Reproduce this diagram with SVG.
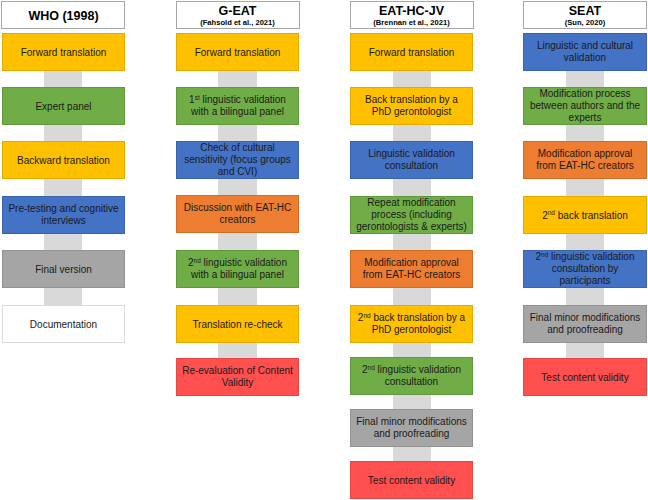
<svg xmlns="http://www.w3.org/2000/svg" width="648" height="500" viewBox="0 0 648 500">
<defs>
<style>
text{font-family:"Liberation Sans",Arial,sans-serif;fill:#1a1a1a;text-anchor:middle}
.t{font-size:10px}
.h{font-size:12.5px;font-weight:bold;fill:#000}
.s{font-size:7.6px;font-weight:bold;fill:#000}
.sup{font-size:6.5px}
.bar{fill:#d9d9d9}
.hdr{fill:#fff;stroke:#a6a6a6;stroke-width:1}
.y{fill:#ffc000;stroke:#e3ab00}
.g{fill:#70ad47;stroke:#5f9a3a}
.b{fill:#4472c4;stroke:#3a63ad}
.o{fill:#ed7d31;stroke:#d46c26}
.gr{fill:#a5a5a5;stroke:#939393}
.r{fill:#ff4f4f;stroke:#e84545}
.w{fill:#fff;stroke:#d9d9d9}
</style>
</defs>
<rect width="648" height="500" fill="#fff"/>
<g id="connectors">
<rect class="bar" x="44" y="52" width="38" height="272"/>
<rect class="bar" x="218" y="52" width="39" height="325"/>
<rect class="bar" x="393" y="52" width="38" height="428"/>
<rect class="bar" x="566" y="52" width="38" height="325"/>
</g>
<g id="headers">
<g id="h-who"><rect class="hdr" x="1.5" y="1.5" width="123" height="27"/><text class="h" x="63.5" y="19.5">WHO (1998)</text></g>
<g id="h-geat"><rect class="hdr" x="176.5" y="1.5" width="123" height="27"/><text class="h" x="237.5" y="14.5">G-EAT</text><text class="s" x="237.5" y="25">(Fahsold et al., 2021)</text></g>
<g id="h-eathcjv"><rect class="hdr" x="350.5" y="1.5" width="123" height="27"/><text class="h" x="411.5" y="14.5">EAT-HC-JV</text><text class="s" x="411.5" y="25">(Brennan et al., 2021)</text></g>
<g id="h-seat"><rect class="hdr" x="523.5" y="1.5" width="123" height="27"/><text class="h" x="585" y="14.5">SEAT</text><text class="s" x="585" y="25">(Sun, 2020)</text></g>
</g>
<g id="col-who">
<g id="w1"><rect class="y" x="2.5" y="33.5" width="122" height="37"/><text class="t" x="63.5" y="55.5">Forward translation</text></g>
<g id="w2"><rect class="g" x="2.5" y="87.5" width="122" height="37"/><text class="t" x="63.5" y="109.5">Expert panel</text></g>
<g id="w3"><rect class="y" x="2.5" y="141.5" width="122" height="37"/><text class="t" x="63.5" y="163.5">Backward translation</text></g>
<g id="w4"><rect class="b" x="2.5" y="196.5" width="122" height="37"/><text class="t" x="63.5" y="212">Pre-testing and cognitive</text><text class="t" x="63.5" y="224">interviews</text></g>
<g id="w5"><rect class="gr" x="2.5" y="250.5" width="122" height="37"/><text class="t" x="63.5" y="272.5">Final version</text></g>
<g id="w6"><rect class="w" x="2.5" y="305.5" width="122" height="37"/><text class="t" x="63.5" y="327.5">Documentation</text></g>
</g>
<g id="col-geat">
<g id="g1"><rect class="y" x="176.5" y="33.5" width="122" height="37"/><text class="t" x="237.5" y="55.5">Forward translation</text></g>
<g id="g2"><rect class="g" x="176.5" y="87.5" width="122" height="37"/><text class="t" x="237.5" y="103">1<tspan class="sup" dy="-3.5">st</tspan><tspan dy="3.5"> linguistic validation</tspan></text><text class="t" x="237.5" y="115">with a bilingual panel</text></g>
<g id="g3"><rect class="b" x="176.5" y="141.5" width="122" height="37"/><text class="t" x="237.5" y="151">Check of cultural</text><text class="t" x="237.5" y="163">sensitivity (focus groups</text><text class="t" x="237.5" y="175">and CVI)</text></g>
<g id="g4"><rect class="o" x="176.5" y="195.5" width="122" height="37"/><text class="t" x="237.5" y="211">Discussion with EAT-HC</text><text class="t" x="237.5" y="223">creators</text></g>
<g id="g5"><rect class="g" x="176.5" y="250.5" width="122" height="37"/><text class="t" x="237.5" y="266">2<tspan class="sup" dy="-3.5">nd</tspan><tspan dy="3.5"> linguistic validation</tspan></text><text class="t" x="237.5" y="278">with a bilingual panel</text></g>
<g id="g6"><rect class="y" x="176.5" y="305.5" width="122" height="37"/><text class="t" x="237.5" y="327.5">Translation re-check</text></g>
<g id="g7"><rect class="r" x="176.5" y="358.5" width="122" height="37"/><text class="t" x="237.5" y="374">Re-evaluation of Content</text><text class="t" x="237.5" y="386">Validity</text></g>
</g>
<g id="col-eathcjv">
<g id="e1"><rect class="y" x="350.5" y="33.5" width="122" height="37"/><text class="t" x="411.5" y="55.5">Forward translation</text></g>
<g id="e2"><rect class="y" x="350.5" y="87.5" width="122" height="37"/><text class="t" x="411.5" y="103">Back translation by a</text><text class="t" x="411.5" y="115">PhD gerontologist</text></g>
<g id="e3"><rect class="b" x="350.5" y="141.5" width="122" height="37"/><text class="t" x="411.5" y="157">Linguistic validation</text><text class="t" x="411.5" y="169">consultation</text></g>
<g id="e4"><rect class="g" x="350.5" y="196.5" width="122" height="37"/><text class="t" x="411.5" y="206">Repeat modification</text><text class="t" x="411.5" y="218">process (including</text><text class="t" x="411.5" y="230">gerontologists &amp; experts)</text></g>
<g id="e5"><rect class="o" x="350.5" y="250.5" width="122" height="37"/><text class="t" x="411.5" y="266">Modification approval</text><text class="t" x="411.5" y="278">from EAT-HC creators</text></g>
<g id="e6"><rect class="y" x="350.5" y="305.5" width="122" height="37"/><text class="t" x="411.5" y="321">2<tspan class="sup" dy="-3.5">nd</tspan><tspan dy="3.5"> back translation by a</tspan></text><text class="t" x="411.5" y="333">PhD gerontologist</text></g>
<g id="e7"><rect class="g" x="350.5" y="357.5" width="122" height="37"/><text class="t" x="411.5" y="373">2<tspan class="sup" dy="-3.5">nd</tspan><tspan dy="3.5"> linguistic validation</tspan></text><text class="t" x="411.5" y="385">consultation</text></g>
<g id="e8"><rect class="gr" x="350.5" y="409.5" width="122" height="37"/><text class="t" x="411.5" y="425">Final minor modifications</text><text class="t" x="411.5" y="437">and proofreading</text></g>
<g id="e9"><rect class="r" x="350.5" y="461.5" width="122" height="37"/><text class="t" x="411.5" y="483.5">Test content validity</text></g>
</g>
<g id="col-seat">
<g id="s1"><rect class="b" x="523.5" y="33.5" width="123" height="37"/><text class="t" x="585" y="49">Linguistic and cultural</text><text class="t" x="585" y="61">validation</text></g>
<g id="s2"><rect class="g" x="523.5" y="87.5" width="123" height="37"/><text class="t" x="585" y="97">Modification process</text><text class="t" x="585" y="109">between authors and the</text><text class="t" x="585" y="121">experts</text></g>
<g id="s3"><rect class="o" x="523.5" y="141.5" width="123" height="37"/><text class="t" x="585" y="157">Modification approval</text><text class="t" x="585" y="169">from EAT-HC creators</text></g>
<g id="s4"><rect class="y" x="523.5" y="196.5" width="123" height="37"/><text class="t" x="585" y="218.5">2<tspan class="sup" dy="-3.5">nd</tspan><tspan dy="3.5"> back translation</tspan></text></g>
<g id="s5"><rect class="b" x="523.5" y="250.5" width="123" height="37"/><text class="t" x="585" y="260">2<tspan class="sup" dy="-3.5">nd</tspan><tspan dy="3.5"> linguistic validation</tspan></text><text class="t" x="585" y="272">consultation by</text><text class="t" x="585" y="284">participants</text></g>
<g id="s6"><rect class="gr" x="523.5" y="305.5" width="123" height="37"/><text class="t" x="585" y="321">Final minor modifications</text><text class="t" x="585" y="333">and proofreading</text></g>
<g id="s7"><rect class="r" x="523.5" y="358.5" width="123" height="37"/><text class="t" x="585" y="380.5">Test content validity</text></g>
</g>
</svg>
